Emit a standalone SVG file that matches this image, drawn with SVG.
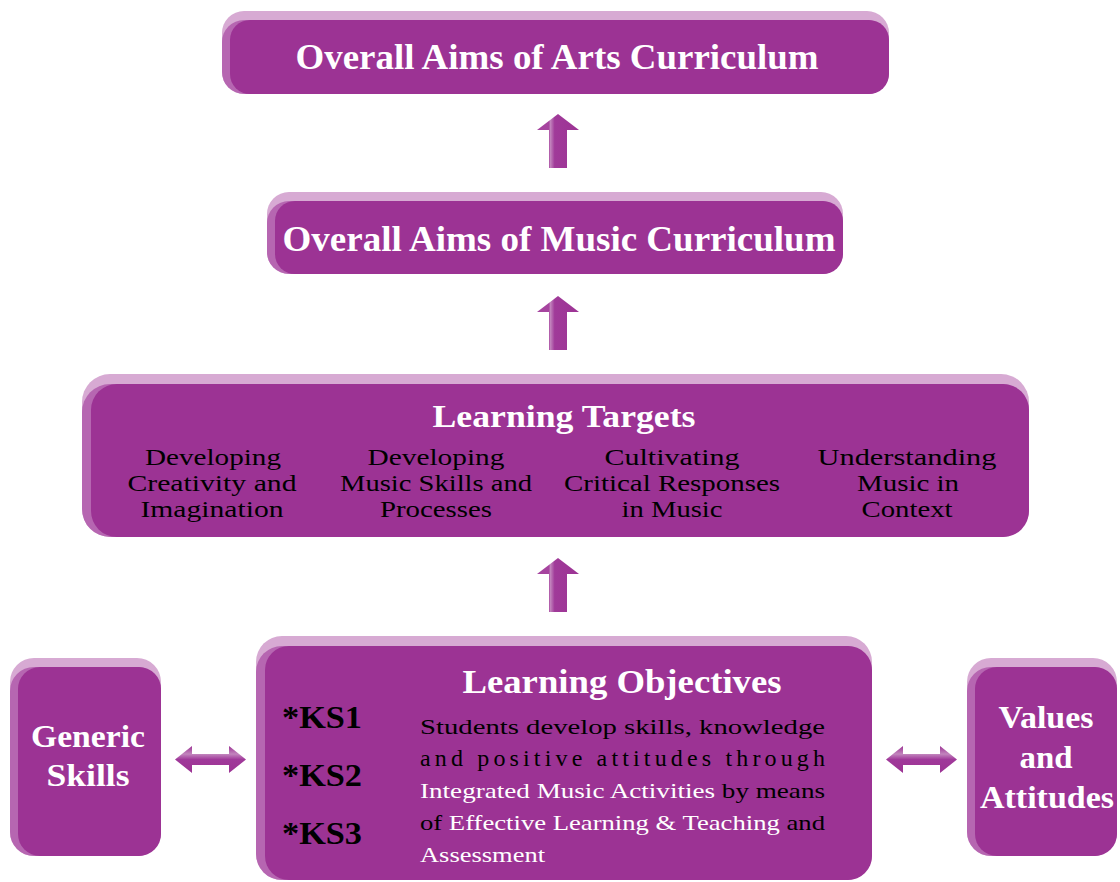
<svg xmlns="http://www.w3.org/2000/svg" width="1120" height="882" viewBox="0 0 1120 882">
<style>
.hl{fill:#D7AAD3}
.sd{fill:#B666B1}
.mn{fill:#9C3394}
.t{font-family:"Liberation Serif","DejaVu Serif",serif;text-anchor:middle}
.w{fill:#FFFFFF;font-weight:bold}
.b{fill:#000000}
.sub{font-size:24px;fill:#000000}
.p{font-family:"Liberation Serif","DejaVu Serif",serif;font-size:22px;fill:#000000}
.wh{fill:#FFFFFF}
</style>
<defs>
<linearGradient id="ag" x1="0" y1="0" x2="1" y2="0">
<stop offset="0" stop-color="#A6449F"/>
<stop offset="0.29" stop-color="#A6449F"/>
<stop offset="0.31" stop-color="#C58AC0"/>
<stop offset="0.42" stop-color="#A03A99"/>
<stop offset="1" stop-color="#9C3394"/>
</linearGradient>
<linearGradient id="hg" x1="0" y1="0" x2="0" y2="1">
<stop offset="0" stop-color="#9C3394"/>
<stop offset="0.3" stop-color="#C285BD"/>
<stop offset="0.5" stop-color="#A0399A"/>
<stop offset="1" stop-color="#9C3394"/>
</linearGradient>
<polygon id="up" points="0,0 21,16 9,16 9,54 -9,54 -9,16 -21,16" fill="url(#ag)"/>
<polygon id="dbl" points="0,13.5 17,0 17,8 54,8 54,0 71,13.5 54,27 54,19 17,19 17,27" fill="url(#hg)"/>
</defs>

<g id="connectors">
<use href="#up" x="558" y="114"/>
<use href="#up" x="558" y="296"/>
<use href="#up" x="558" y="558"/>
<use href="#dbl" x="175" y="746"/>
<use href="#dbl" x="886" y="746"/>
</g>

<g id="arts-aims">
<rect class="hl" x="222" y="11" width="667" height="83" rx="22"/>
<rect class="sd" x="222" y="20" width="667" height="74" rx="22"/>
<rect class="mn" x="230" y="20" width="659" height="74" rx="20"/>
<text class="t w" x="557" y="69" font-size="35" textLength="523" lengthAdjust="spacingAndGlyphs">Overall Aims of Arts Curriculum</text>
</g>

<g id="music-aims">
<rect class="hl" x="267" y="192" width="576" height="82" rx="22"/>
<rect class="sd" x="267" y="201" width="576" height="73" rx="22"/>
<rect class="mn" x="275" y="201" width="568" height="73" rx="20"/>
<text class="t w" x="559" y="251" font-size="35" textLength="553" lengthAdjust="spacingAndGlyphs">Overall Aims of Music Curriculum</text>
</g>

<g id="learning-targets">
<rect class="hl" x="82" y="374" width="947" height="163" rx="28"/>
<rect class="sd" x="82" y="384" width="947" height="153" rx="28"/>
<rect class="mn" x="91" y="384" width="938" height="153" rx="26"/>
<text class="t w" x="564" y="427" font-size="32" textLength="263" lengthAdjust="spacingAndGlyphs">Learning Targets</text>
<text class="t sub" x="213" y="465" textLength="136" lengthAdjust="spacingAndGlyphs">Developing</text>
<text class="t sub" x="212" y="491" textLength="169" lengthAdjust="spacingAndGlyphs">Creativity and</text>
<text class="t sub" x="212" y="517" textLength="143" lengthAdjust="spacingAndGlyphs">Imagination</text>
<text class="t sub" x="436" y="465" textLength="137" lengthAdjust="spacingAndGlyphs">Developing</text>
<text class="t sub" x="436" y="491" textLength="192" lengthAdjust="spacingAndGlyphs">Music Skills and</text>
<text class="t sub" x="436" y="517" textLength="112" lengthAdjust="spacingAndGlyphs">Processes</text>
<text class="t sub" x="672" y="465" textLength="135" lengthAdjust="spacingAndGlyphs">Cultivating</text>
<text class="t sub" x="672" y="491" textLength="216" lengthAdjust="spacingAndGlyphs">Critical Responses</text>
<text class="t sub" x="672" y="517" textLength="101" lengthAdjust="spacingAndGlyphs">in Music</text>
<text class="t sub" x="907" y="465" textLength="179" lengthAdjust="spacingAndGlyphs">Understanding</text>
<text class="t sub" x="908" y="491" textLength="102" lengthAdjust="spacingAndGlyphs">Music in</text>
<text class="t sub" x="907" y="517" textLength="91" lengthAdjust="spacingAndGlyphs">Context</text>
</g>

<g id="generic-skills">
<rect class="hl" x="10" y="658" width="151" height="198" rx="24"/>
<rect class="sd" x="10" y="667" width="151" height="189" rx="24"/>
<rect class="mn" x="18" y="667" width="143" height="189" rx="22"/>
<text class="t w" x="88" y="747" font-size="32" textLength="114" lengthAdjust="spacingAndGlyphs">Generic</text>
<text class="t w" x="88" y="786" font-size="32" textLength="83" lengthAdjust="spacingAndGlyphs">Skills</text>
</g>

<g id="learning-objectives">
<rect class="hl" x="256" y="636" width="616" height="244" rx="26"/>
<rect class="sd" x="256" y="646" width="616" height="234" rx="26"/>
<rect class="mn" x="265" y="646" width="607" height="234" rx="24"/>
<text class="t w" x="622" y="693" font-size="33" textLength="319" lengthAdjust="spacingAndGlyphs">Learning Objectives</text>
<text class="t b" x="322" y="728" font-size="32" font-weight="bold" textLength="80" lengthAdjust="spacingAndGlyphs">*KS1</text>
<text class="t b" x="322" y="786" font-size="32" font-weight="bold" textLength="80" lengthAdjust="spacingAndGlyphs">*KS2</text>
<text class="t b" x="322" y="844" font-size="32" font-weight="bold" textLength="80" lengthAdjust="spacingAndGlyphs">*KS3</text>
<text class="p" x="420" y="734" textLength="405" lengthAdjust="spacingAndGlyphs">Students develop skills, knowledge</text>
<text class="p" x="420" y="766" style="font-size:24px" textLength="405" lengthAdjust="spacing">and positive attitudes through</text>
<text class="p" x="420" y="798" textLength="405" lengthAdjust="spacingAndGlyphs"><tspan class="wh">Integrated Music Activities</tspan> by means</text>
<text class="p" x="420" y="830" textLength="405" lengthAdjust="spacingAndGlyphs">of <tspan class="wh">Effective Learning &amp; Teaching</tspan> and</text>
<text class="p" x="420" y="862" textLength="125" lengthAdjust="spacingAndGlyphs"><tspan class="wh">Assessment</tspan></text>
</g>

<g id="values-attitudes">
<rect class="hl" x="967" y="658" width="150" height="198" rx="24"/>
<rect class="sd" x="967" y="667" width="150" height="189" rx="24"/>
<rect class="mn" x="975" y="667" width="142" height="189" rx="22"/>
<text class="t w" x="1046" y="728" font-size="32" textLength="95" lengthAdjust="spacingAndGlyphs">Values</text>
<text class="t w" x="1046" y="768" font-size="32" textLength="53" lengthAdjust="spacingAndGlyphs">and</text>
<text class="t w" x="1047" y="808" font-size="32" textLength="134" lengthAdjust="spacingAndGlyphs">Attitudes</text>
</g>
</svg>
